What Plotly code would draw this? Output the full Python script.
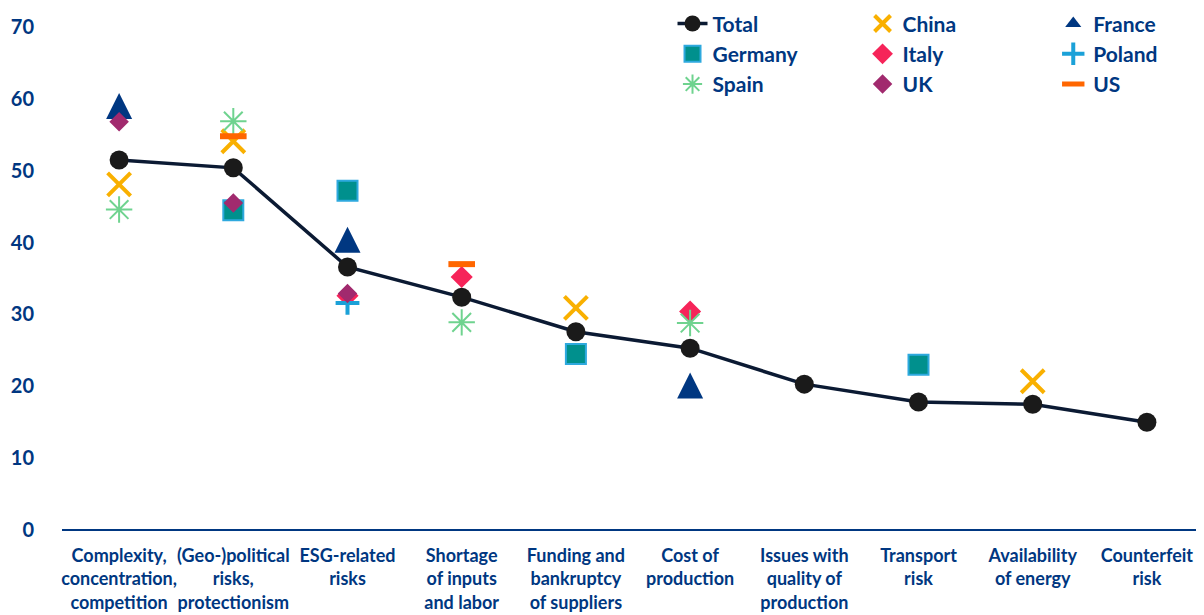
import plotly.graph_objects as go

categories = [
    "Complexity,<br>concentration,<br>competition",
    "(Geo-)political<br>risks,<br>protectionism",
    "ESG-related<br>risks",
    "Shortage<br>of inputs<br>and labor",
    "Funding and<br>bankruptcy<br>of suppliers",
    "Cost of<br>production",
    "Issues with<br>quality of<br>production",
    "Transport<br>risk",
    "Availability<br>of energy",
    "Counterfeit<br>risk",
]

total = [51.5, 50.4, 36.6, 32.4, 27.6, 25.3, 20.3, 17.8, 17.5, 15.0]
china = [48.1, 54.1, None, None, 30.9, None, None, None, 20.7, None]
france = [59.0, None, 40.4, None, None, 20.1, None, None, None, None]
germany = [None, 44.5, 47.2, None, 24.5, None, None, 23.0, None, None]
italy = [None, None, 32.6, 35.2, None, 30.4, None, None, None, None]
poland = [None, None, 31.6, None, None, None, None, None, None, None]
spain = [44.6, 56.9, None, 28.9, None, 28.8, None, None, None, None]
uk = [56.8, 45.5, 32.9, None, None, None, None, None, None, None]
us = [None, 54.8, None, 37.0, None, None, None, None, None, None]

y_ticks = [0, 10, 20, 30, 40, 50, 60, 70]

NAVY = "#003781"
FONT = "Lato"

fig = go.Figure()

fig.add_trace(go.Scatter(
    x=categories, y=total, name="Total", mode="lines+markers", legend="legend",
    line=dict(color="#0b1a33", width=3.5),
    marker=dict(symbol="circle", size=19, color="#1a1a1a"),
))
fig.add_trace(go.Scatter(
    x=categories, y=china, name="China", mode="markers", legend="legend2",
    marker=dict(symbol="x-thin", size=23, color="#f9b000",
                line=dict(color="#f9b000", width=4)),
))
# legend entry for France (plain triangle symbol, no marks in the plot)
fig.add_trace(go.Scatter(
    x=[None], y=[None], name="France", mode="markers", legend="legend3",
    marker=dict(symbol="triangle-up", size=14, color=NAVY),
))
# France markers: centred equilateral-like triangle
fig.add_trace(go.Scatter(
    x=categories, y=france, name="France", mode="markers", showlegend=False,
    marker=dict(symbol="arrow-down", angle=180, size=26, color=NAVY, standoff=13),
))
fig.add_trace(go.Scatter(
    x=categories, y=germany, name="Germany", mode="markers", legend="legend",
    marker=dict(symbol="square", size=20, color="#00908d",
                line=dict(color="#2ea9de", width=2)),
))
fig.add_trace(go.Scatter(
    x=categories, y=italy, name="Italy", mode="markers", legend="legend2",
    marker=dict(symbol="diamond", size=17, color="#f62459"),
))
fig.add_trace(go.Scatter(
    x=categories, y=poland, name="Poland", mode="markers", legend="legend3",
    marker=dict(symbol="cross-thin", size=17, color="#1ba1d8",
                line=dict(color="#1ba1d8", width=4)),
))
fig.add_trace(go.Scatter(
    x=categories, y=spain, name="Spain", mode="markers", legend="legend",
    marker=dict(symbol="asterisk-open", size=22, color="#6fd38f",
                line=dict(color="#6fd38f", width=2)),
))
fig.add_trace(go.Scatter(
    x=categories, y=uk, name="UK", mode="markers", legend="legend2",
    marker=dict(symbol="diamond", size=15, color="#a12a6e"),
))
fig.add_trace(go.Scatter(
    x=categories, y=us, name="US", mode="markers", legend="legend3",
    marker=dict(symbol="line-ew", size=19, color="#ff6600",
                line=dict(color="#ff6600", width=6)),
))

legend_common = dict(
    orientation="v", yanchor="top", xanchor="left", y=1.047,
    font=dict(family=FONT, size=21, color=NAVY, weight="bold"),
    bgcolor="rgba(0,0,0,0)", tracegroupgap=0, itemsizing="trace",
)

fig.update_layout(
    width=1196, height=607,
    margin=dict(l=54, r=0, t=19, b=85, autoexpand=False),
    paper_bgcolor="white", plot_bgcolor="white",
    font=dict(family=FONT, color=NAVY, size=18, weight="bold"),
    showlegend=True,
    legend=dict(x=0.5346, **legend_common),
    legend2=dict(x=0.701, **legend_common),
    legend3=dict(x=0.868, **legend_common),
    xaxis=dict(
        type="category", range=[-0.5, 9.5], showgrid=False, zeroline=False,
        showline=False, ticks="", automargin=False, ticklabelstandoff=13,
        tickangle=0,
        tickfont=dict(family=FONT, size=18, color=NAVY, weight="bold"),
    ),
    yaxis=dict(
        range=[0, 70], tickvals=y_ticks, showgrid=False, zeroline=True,
        zerolinecolor=NAVY, zerolinewidth=1.5, showline=False, ticks="",
        ticklabelstandoff=27, automargin=False,
        tickfont=dict(family=FONT, size=20, color=NAVY, weight="bold"),
    ),
)

fig.write_html("out.html")
